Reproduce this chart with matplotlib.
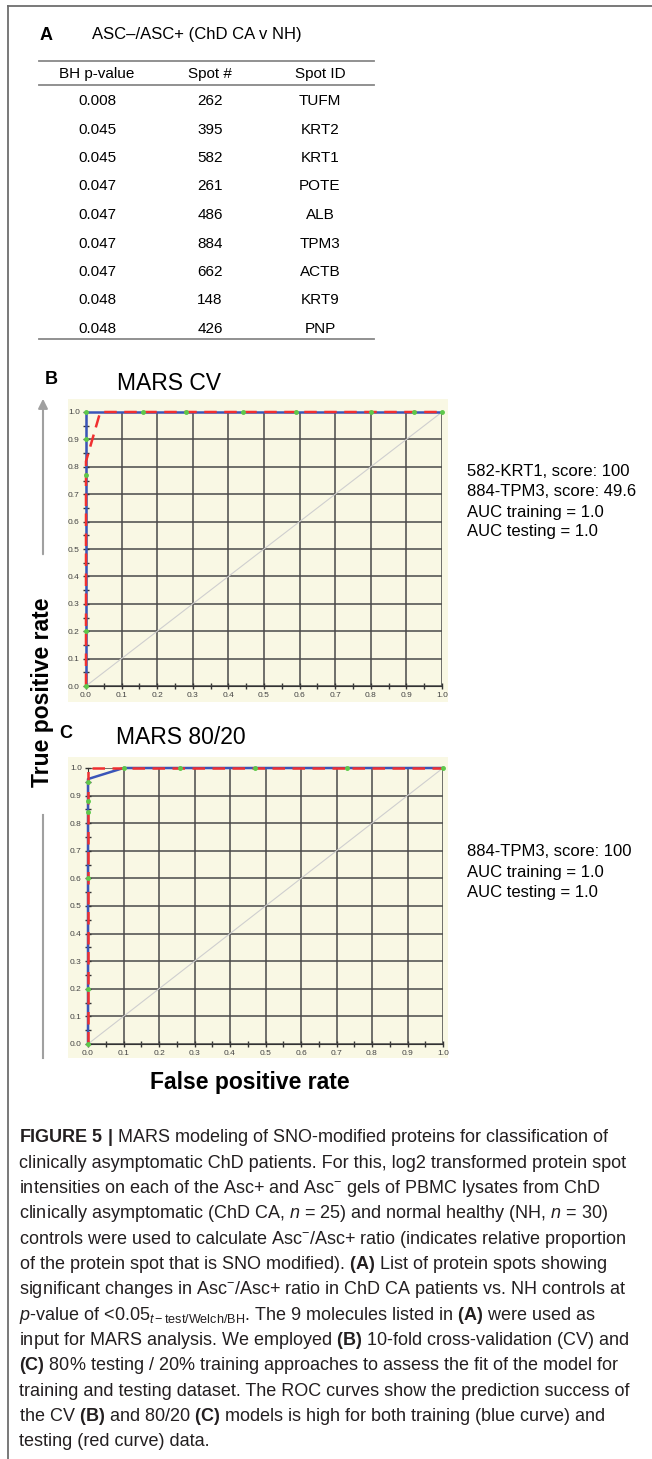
import matplotlib
matplotlib.use('Agg')
import matplotlib.pyplot as plt
from matplotlib.lines import Line2D
from matplotlib.patches import Rectangle, FancyArrowPatch

W, H = 652, 1459

# Panel A table
bh_pvalues = ['0.008', '0.045', '0.045', '0.047', '0.047', '0.047', '0.047', '0.048', '0.048']
spot_nums = ['262', '395', '582', '261', '486', '884', '662', '148', '426']
spot_ids = ['TUFM', 'KRT2', 'KRT1', 'POTE', 'ALB', 'TPM3', 'ACTB', 'KRT9', 'PNP']
table_header = ['BH p-value', 'Spot #', 'Spot ID']

# ROC curves, panel B (10-fold CV)
cv_train_fpr = [0.0, 0.0, 1.0]
cv_train_tpr = [0.0, 1.0, 1.0]
cv_test_fpr = [0.0, 0.0, 0.04, 1.0]
cv_test_tpr = [0.0, 0.82, 1.0, 1.0]
cv_pts_fpr = [0.0, 0.0, 0.0, 0.0, 0.0, 0.16, 0.28, 0.44, 0.59, 0.80, 0.92, 1.0]
cv_pts_tpr = [0.0, 0.2, 0.77, 0.9, 1.0, 1.0, 1.0, 1.0, 1.0, 1.0, 1.0, 1.0]
cv_notes = ['582-KRT1, score: 100', '884-TPM3, score: 49.6',
            'AUC training = 1.0', 'AUC testing = 1.0']

# ROC curves, panel C (80/20)
sp_train_fpr = [0.0, 0.0, 0.1, 1.0]
sp_train_tpr = [0.0, 0.96, 1.0, 1.0]
sp_test_fpr = [0.0, 0.0, 1.0]
sp_test_tpr = [0.0, 1.0, 1.0]
sp_pts_fpr = [0.0, 0.0, 0.0, 0.0, 0.0, 0.0, 0.1, 0.26, 0.47, 0.73, 1.0]
sp_pts_tpr = [0.0, 0.2, 0.6, 0.84, 0.88, 0.95, 1.0, 1.0, 1.0, 1.0, 1.0]
sp_notes = ['884-TPM3, score: 100', 'AUC training = 1.0', 'AUC testing = 1.0']

caption = [
    r'$\mathbf{FIGURE\ 5\ |}$ MARS modeling of SNO-modified proteins for classification of',
    'clinically asymptomatic ChD patients. For this, log2 transformed protein spot',
    r'intensities on each of the Asc+ and Asc$^{-}$ gels of PBMC lysates from ChD',
    r'clinically asymptomatic (ChD CA, $n$ = 25) and normal healthy (NH, $n$ = 30)',
    r'controls were used to calculate Asc$^{-}$/Asc+ ratio (indicates relative proportion',
    r'of the protein spot that is SNO modified). $\mathbf{(A)}$ List of protein spots showing',
    r'significant changes in Asc$^{-}$/Asc+ ratio in ChD CA patients vs. NH controls at',
    r'$p$-value of <0.05$_{t-\mathrm{test/Welch/BH}}$. The 9 molecules listed in $\mathbf{(A)}$ were used as',
    r'input for MARS analysis. We employed $\mathbf{(B)}$ 10-fold cross-validation (CV) and',
    r'$\mathbf{(C)}$ 80% testing / 20% training approaches to assess the fit of the model for',
    'training and testing dataset. The ROC curves show the prediction success of',
    r'the CV $\mathbf{(B)}$ and 80/20 $\mathbf{(C)}$ models is high for both training (blue curve) and',
    'testing (red curve) data.',
]

plt.rcParams['font.family'] = ['Liberation Sans', 'DejaVu Sans']
plt.rcParams['mathtext.fontset'] = 'custom'
plt.rcParams['mathtext.rm'] = 'Liberation Sans'
plt.rcParams['mathtext.it'] = 'Liberation Sans:italic'
plt.rcParams['mathtext.bf'] = 'Liberation Sans:bold'

fig = plt.figure(figsize=(W / 100, H / 100), dpi=100)


def fx(x):
    return x / W


def fy(y):
    return 1 - y / H


def hline(x0, x1, y, **kw):
    fig.add_artist(Line2D([fx(x0), fx(x1)], [fy(y), fy(y)], **kw))


# outer frame (top and left only)
hline(8, W, 6, color='#6e6e6e', lw=1.3)
fig.add_artist(Line2D([fx(8), fx(8)], [fy(6), 0], color='#6e6e6e', lw=1.3))

# Panel A
fig.text(fx(40), fy(35), 'A', fontsize=13, fontweight='bold', va='center')
fig.text(fx(92), fy(35), 'ASC\u2013/ASC+ (ChD CA v NH)', fontsize=12, va='center')
hline(39, 374, 61, color='#888888', lw=1.3)
hline(39, 374, 85, color='#888888', lw=1.3)
hline(39, 374, 339, color='#888888', lw=1.3)
col_x = [97, 210, 320]
for cx, lab in zip(col_x, table_header):
    fig.text(fx(cx), fy(74), lab, fontsize=11, ha='center', va='center')
for i in range(len(bh_pvalues)):
    yy = 101 + i * 28.5
    for cx, val in zip(col_x, [bh_pvalues[i], spot_nums[i], spot_ids[i]]):
        fig.text(fx(cx), fy(yy), val, fontsize=11, ha='center', va='center')

BEIGE = '#f9f8e4'


def roc_panel(box, bg, label, lxy, title, txy, train, test, pts, notes, note_y):
    x0, x1, y_top, y_bot = box
    fig.add_artist(Rectangle((fx(bg[0]), fy(bg[3])), fx(bg[1]) - fx(bg[0]),
                             fy(bg[2]) - fy(bg[3]), color=BEIGE, lw=0, zorder=0))
    ax = fig.add_axes([fx(x0), fy(y_bot), fx(x1) - fx(x0), fy(y_top) - fy(y_bot)])
    ax.set_facecolor(BEIGE)
    ax.set_xlim(0, 1)
    ax.set_ylim(0, 1)
    ticks = [i / 10 for i in range(11)]
    ax.set_xticks(ticks)
    ax.set_yticks(ticks)
    ax.set_xticklabels(['%.1f' % t for t in ticks])
    ax.set_yticklabels(['%.1f' % t for t in ticks])
    ax.set_xticks([i / 20 for i in range(1, 20, 2)], minor=True)
    ax.set_yticks([i / 20 for i in range(1, 20, 2)], minor=True)
    ax.tick_params(which='both', labelsize=6, labelcolor='#444444', color='#333333',
                   direction='inout', length=5, width=1, pad=2)
    ax.grid(True, which='major', color='#4a4a4a', lw=1.1)
    for s in ['top', 'right']:
        ax.spines[s].set_visible(False)
    ax.spines['left'].set_color('#333333')
    ax.spines['bottom'].set_color('#333333')
    ax.plot([0, 1], [0, 1], color='#cfcfcf', lw=0.8, zorder=3)
    ax.plot(train[0], train[1], color='#3a55b8', lw=1.8, clip_on=False, zorder=4)
    ax.plot(test[0], test[1], color='#f03030', lw=1.8, dashes=(5, 3), clip_on=False, zorder=5)
    ax.plot(pts[0], pts[1], 'o', color='#5ec94a', ms=2.5, clip_on=False, zorder=6)
    fig.text(fx(lxy[0]), fy(lxy[1]), label, fontsize=13, fontweight='bold', va='center')
    fig.text(fx(txy[0]), fy(txy[1]), title, fontsize=16.5, va='center')
    for k, note in enumerate(notes):
        fig.text(fx(467), fy(note_y + 20 * k), note, fontsize=12, va='center')
    return ax


roc_panel((86, 442, 412, 686), (68, 448, 399, 702), 'B', (45, 379), 'MARS CV', (117, 383),
          (cv_train_fpr, cv_train_tpr), (cv_test_fpr, cv_test_tpr),
          (cv_pts_fpr, cv_pts_tpr), cv_notes, 472)
roc_panel((88, 443, 768, 1044), (68, 448, 757, 1058), 'C', (59, 733), 'MARS 80/20', (116, 737),
          (sp_train_fpr, sp_train_tpr), (sp_test_fpr, sp_test_tpr),
          (sp_pts_fpr, sp_pts_tpr), sp_notes, 852)

# shared axis labels with gray guide arrows
fig.text(fx(43), fy(692), 'True positive rate', fontsize=16.5, fontweight='bold',
         rotation=90, ha='center', va='center')
fig.add_artist(FancyArrowPatch((fx(43), fy(557)), (fx(43), fy(396)), transform=fig.transFigure,
                               arrowstyle='-|>', mutation_scale=14, color='#a0a0a0', lw=1.5))
fig.add_artist(Line2D([fx(43), fx(43)], [fy(815), fy(1058)], color='#a0a0a0', lw=1.5))
fig.text(fx(250), fy(1083), 'False positive rate', fontsize=16.5, fontweight='bold',
         ha='center', va='center')

# caption
for k, line in enumerate(caption):
    fig.text(fx(19), fy(1138 + 25.3 * k), line, fontsize=13, va='center', color='#231f20')

fig.savefig('out.png', dpi=100)
